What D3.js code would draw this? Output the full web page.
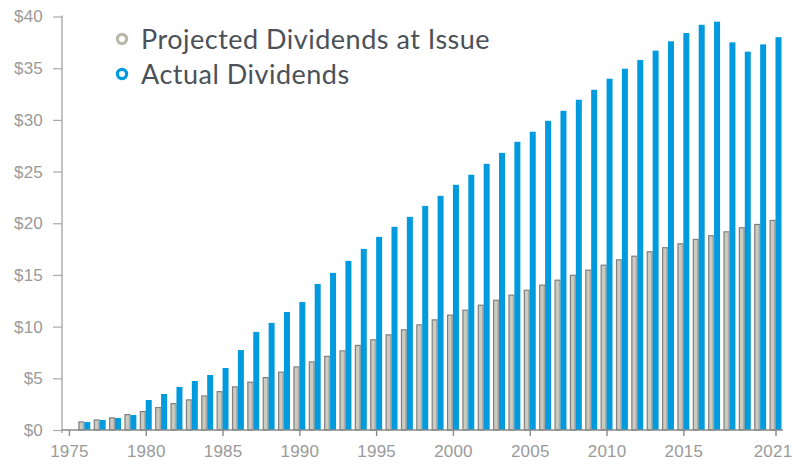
<!DOCTYPE html>
<html>
<head>
<meta charset="utf-8">
<script src="https://cdn.jsdelivr.net/npm/d3@7"></script>
<style>
  body { margin: 0; background: #fff; }
  svg { display: block; font-family: Lato, "Open Sans", sans-serif; }
  .axis text { fill: #9a9a9a; font-size: 17px; font-weight: 300; letter-spacing: 0.2px; }
</style>
</head>
<body>
<svg></svg>
<script>
const years = d3.range(1976, 2022);
const projected = [
  0.84, 1.03, 1.23, 1.55, 1.84, 2.23, 2.61, 2.97, 3.35, 3.77,
  4.23, 4.68, 5.13, 5.65, 6.16, 6.65, 7.18, 7.71, 8.24, 8.78,
  9.26, 9.75, 10.23, 10.71, 11.17, 11.65, 12.13, 12.61, 13.10, 13.58,
  14.07, 14.55, 15.03, 15.52, 16.00, 16.52, 16.87, 17.30, 17.69, 18.07,
  18.49, 18.85, 19.23, 19.62, 19.94, 20.33
];
const actual = [
  0.77, 0.97, 1.16, 1.45, 2.90, 3.48, 4.16, 4.74, 5.32, 6.00,
  7.74, 9.49, 10.36, 11.42, 12.39, 14.13, 15.20, 16.36, 17.52, 18.68,
  19.65, 20.62, 21.68, 22.65, 23.72, 24.69, 25.75, 26.81, 27.88, 28.85,
  29.91, 30.88, 31.95, 32.91, 33.98, 34.95, 35.80, 36.70, 37.60, 38.40,
  39.20, 39.50, 37.50, 36.60, 37.30, 38.00
];
const xTicks = [1975, 1980, 1985, 1990, 1995, 2000, 2005, 2010, 2015, 2021];
const yTicks = [0, 5, 10, 15, 20, 25, 30, 35, 40];
const seriesNames = ["Projected Dividends at Issue", "Actual Dividends"];

const width = 793;
const height = 464;
const colors = { proj: "#cccbc0", act: "#009bde" };

const svg = d3.select("svg")
  .attr("width", width)
  .attr("height", height);

// year -> centre of its pair of bars
const xLin = d3.scaleLinear()
  .domain([1976, 2021])
  .range([84.3, 775.5]);

const step = (xLin(2021) - xLin(1976)) / 45;

const x = d3.scaleBand()
  .domain(years)
  .range([xLin(1976) - step / 2, xLin(2021) + step / 2])
  .paddingInner(0.22)
  .paddingOuter(0.11);

const xs = d3.scaleBand()
  .domain(["proj", "act"])
  .range([0, x.bandwidth()]);

const y = d3.scaleLinear()
  .domain([0, 40])
  .range([430, 16.5]);

const rows = years.map((yr, i) => ({ year: yr, proj: projected[i], act: actual[i] }));

// y axis
const yAxis = svg.append("g")
  .attr("class", "axis axis--y")
  .attr("transform", "translate(62,0)")
  .call(d3.axisLeft(y).tickValues(yTicks).tickFormat(d => "$" + d).tickSize(9).tickSizeOuter(0).tickPadding(10));
yAxis.select(".domain").attr("stroke", "#b4b4b4").attr("stroke-width", 1.6)
  .attr("d", `M0,${y(40) - 1}V${y(0) + 3}`);
yAxis.selectAll(".tick line").attr("stroke", "#aaa").attr("stroke-width", 1.2);

// bars
const g = svg.append("g");

g.selectAll(".proj")
  .data(rows)
  .enter()
  .append("rect")
  .attr("class", "proj")
  .attr("x", d => x(d.year) + xs("proj") + 0.6)
  .attr("y", d => y(d.proj) + 0.6)
  .attr("width", xs.bandwidth() - 1.2)
  .attr("height", d => y(0) - y(d.proj) - 0.6)
  .attr("fill", colors.proj)
  .attr("stroke", "#7f7f7f")
  .attr("stroke-width", 1.2);

g.selectAll(".proj-edge")
  .data(rows)
  .enter()
  .append("rect")
  .attr("class", "proj-edge")
  .attr("x", d => x(d.year) + xs("proj") + xs.bandwidth() - 1.6)
  .attr("y", d => y(d.proj) + 1.2)
  .attr("width", 1.4)
  .attr("height", d => y(0) - y(d.proj) - 1.2)
  .attr("fill", "#ababab");

g.selectAll(".act")
  .data(rows)
  .enter()
  .append("rect")
  .attr("class", "act")
  .attr("x", d => x(d.year) + xs("act"))
  .attr("y", d => y(d.act))
  .attr("width", xs.bandwidth())
  .attr("height", d => y(0) - y(d.act))
  .attr("fill", colors.act);

// x axis
const xAxis = svg.append("g")
  .attr("class", "axis axis--x")
  .attr("transform", `translate(0,${y(0)})`)
  .call(d3.axisBottom(xLin).tickValues(xTicks).tickFormat(d3.format("d")).tickSize(6).tickSizeOuter(0).tickPadding(9));
xAxis.select(".domain").attr("stroke", "#8a8a8a").attr("stroke-width", 1.6)
  .attr("d", "M62,0H783");
xAxis.selectAll(".tick line").attr("stroke", "#8a8a8a").attr("stroke-width", 1.4);
// keep the last label inside the frame
xAxis.selectAll(".tick text").filter(d => d === 2021).attr("dx", -3);

// legend
const legend = svg.append("g");
const legendItems = legend.selectAll("g")
  .data(seriesNames)
  .enter()
  .append("g")
  .attr("transform", (d, i) => `translate(122,${39 + i * 35})`);

legendItems.append("circle")
  .attr("r", 4.6)
  .attr("fill", "none")
  .attr("stroke", (d, i) => i === 0 ? "#b9b8ad" : colors.act)
  .attr("stroke-width", 3.2);

legendItems.append("text")
  .attr("x", 19)
  .attr("y", 9.5)
  .attr("fill", "#4b5157")
  .style("font-size", "27px")
  .style("letter-spacing", "0.5px")
  .text(d => d);
</script>
</body>
</html>
